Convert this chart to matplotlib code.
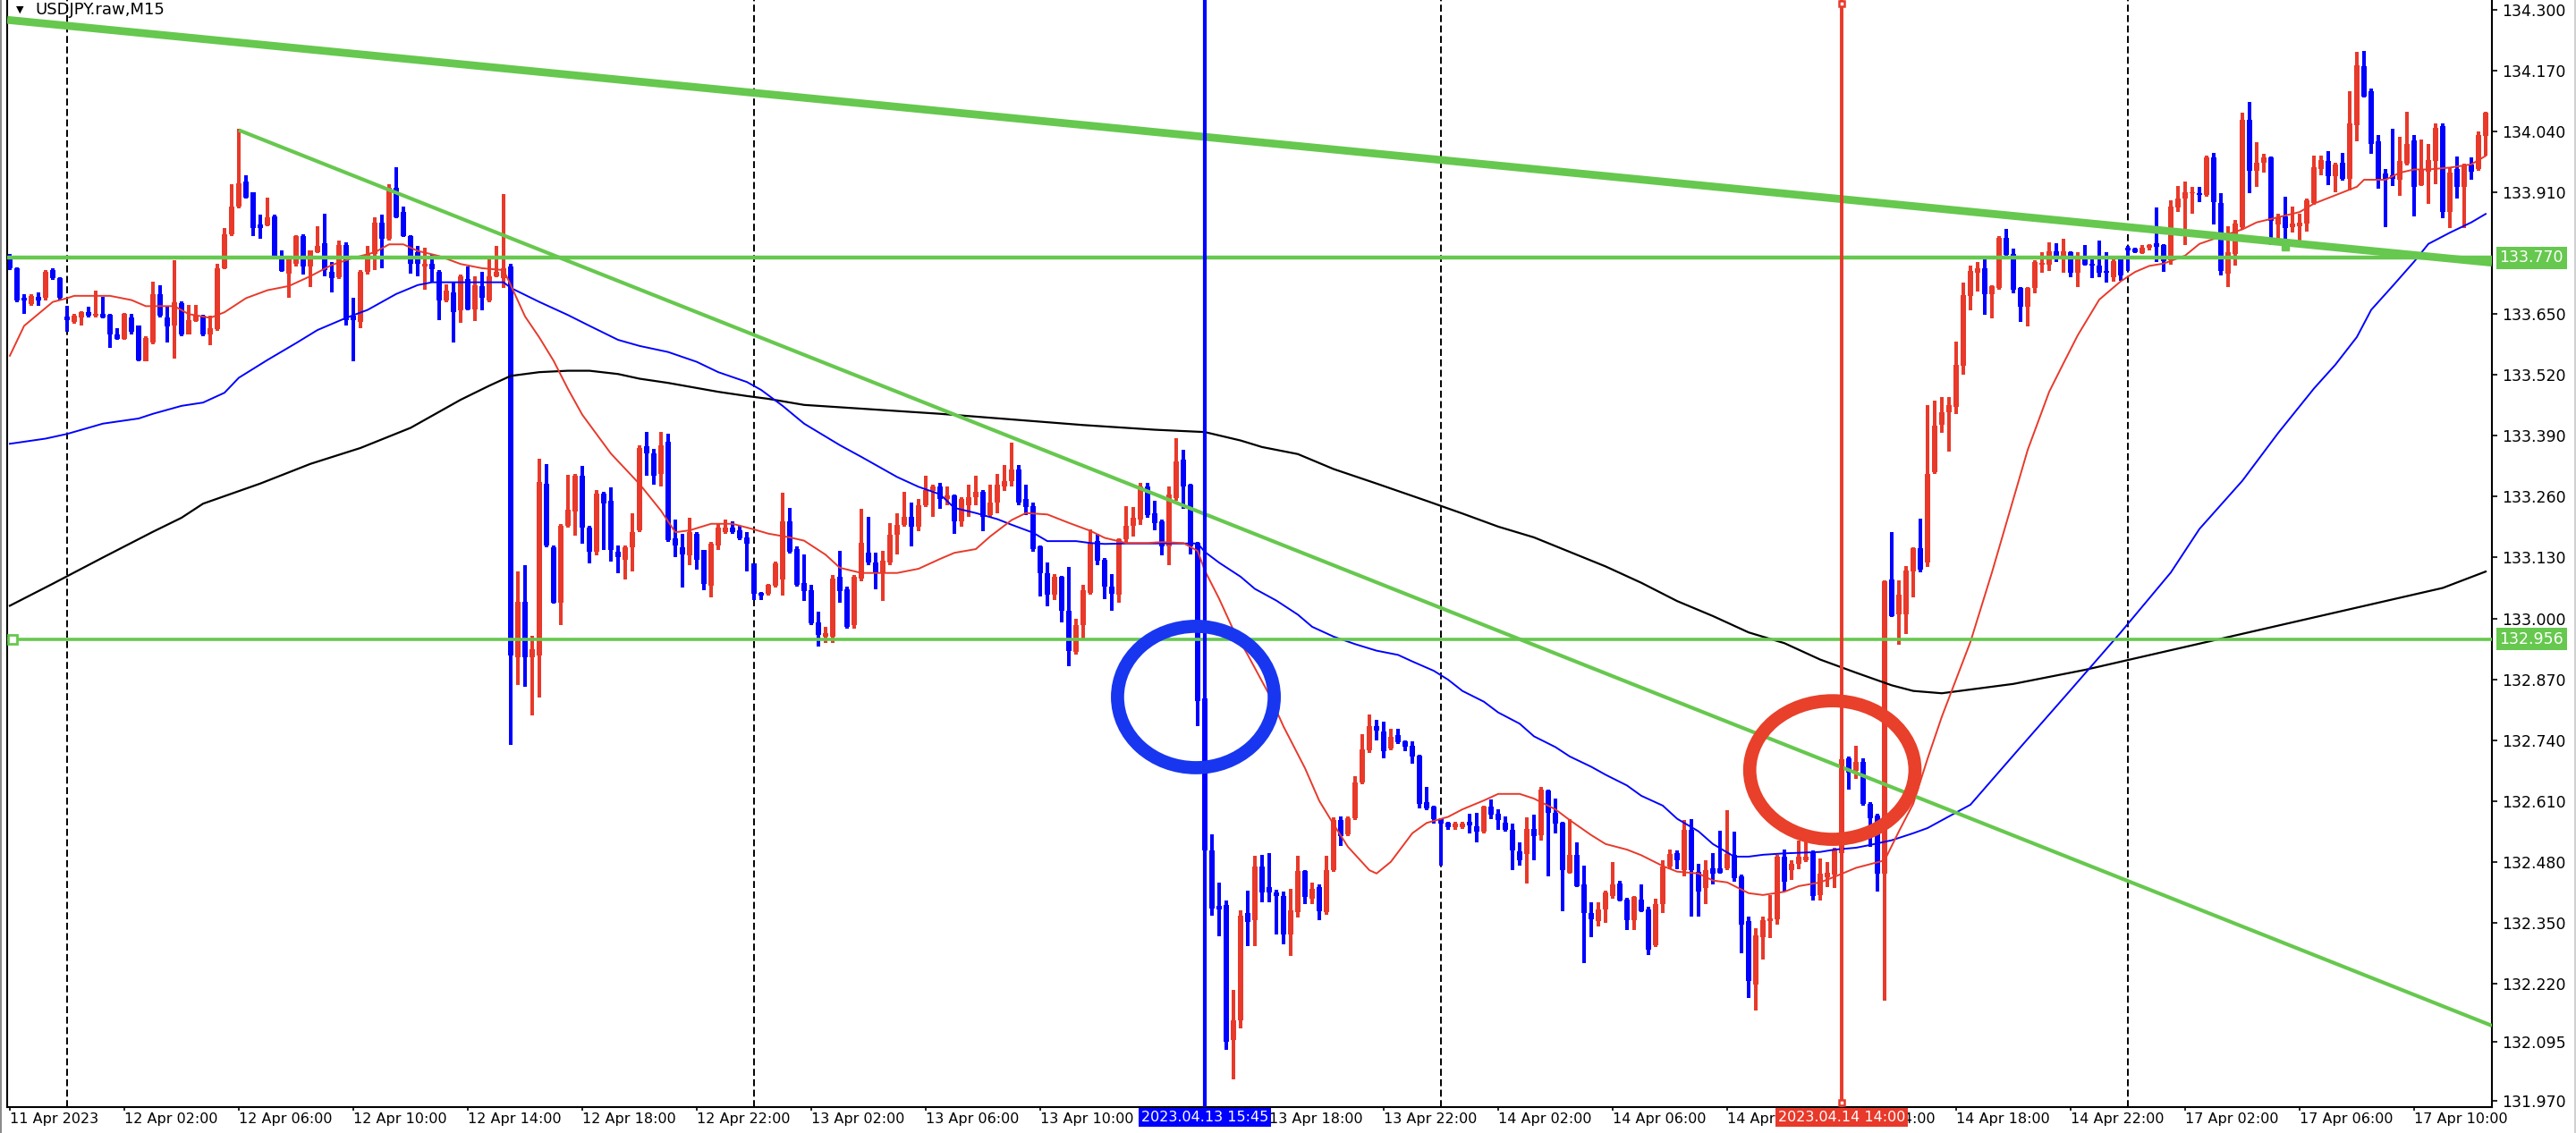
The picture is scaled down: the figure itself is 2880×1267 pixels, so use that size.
import numpy as np
import matplotlib
matplotlib.use("Agg")
import matplotlib.pyplot as plt
from matplotlib.patches import Ellipse
from matplotlib.lines import Line2D
from matplotlib.transforms import blended_transform_factory

RED = "#e8392a"
BLUE = "#0000ff"
GREEN = "#66c84e"

# USDJPY M15 bars, bar 0 = 11 Apr 22:00 ... bar 346 = 17 Apr 12:30
opens = [
    133.774, 133.748, 133.684, 133.671, 133.686, 133.684, 133.744, 133.727, 133.644, 133.633,
    133.642, 133.654, 133.646, 133.650, 133.648, 133.607, 133.597, 133.642, 133.625, 133.549,
    133.590, 133.693, 133.643, 133.625, 133.674, 133.607, 133.635, 133.646, 133.607, 133.618,
    133.748, 133.821, 133.880, 133.933, 133.910, 133.842, 133.839, 133.859, 133.774, 133.737,
    133.757, 133.816, 133.752, 133.782, 133.802, 133.740, 133.729, 133.797, 133.646, 133.633,
    133.740, 133.778, 133.845, 133.811, 133.919, 133.868, 133.816, 133.782, 133.751, 133.757,
    133.740, 133.680, 133.697, 133.659, 133.725, 133.660, 133.710, 133.680, 133.731, 133.727,
    133.752, 132.917, 133.036, 132.917, 132.921, 133.288, 133.151, 133.034, 133.198, 133.228,
    133.305, 133.194, 133.143, 133.266, 133.251, 133.143, 133.126, 133.151, 133.189, 133.367,
    133.352, 133.309, 133.377, 133.171, 133.151, 133.134, 133.181, 133.147, 133.070, 133.155,
    133.185, 133.194, 133.189, 133.173, 133.117, 133.055, 133.053, 133.070, 133.083, 133.207,
    133.148, 133.076, 133.061, 132.991, 132.961, 132.961, 133.089, 133.063, 132.986, 133.085,
    133.140, 133.119, 133.097, 133.119, 133.178, 133.200, 133.217, 133.195, 133.242, 133.272,
    133.281, 133.255, 133.262, 133.208, 133.242, 133.259, 133.270, 133.221, 133.247, 133.281,
    133.294, 133.319, 133.255, 133.240, 133.153, 133.097, 133.050, 133.089, 133.016, 132.929,
    132.986, 133.055, 133.165, 133.125, 133.068, 133.050, 133.170, 133.197, 133.212, 133.281,
    133.225, 133.208, 133.153, 133.257, 133.340, 133.285, 133.161, 132.829, 132.504, 132.385,
    132.387, 132.099, 132.142, 132.370, 132.355, 132.470, 132.426, 132.415, 132.406, 132.325,
    132.372, 132.460, 132.402, 132.426, 132.372, 132.462, 132.569, 132.539, 132.573, 132.650,
    132.718, 132.769, 132.758, 132.722, 132.750, 132.738, 132.727, 132.707, 132.608, 132.597,
    132.571, 132.563, 132.553, 132.553, 132.566, 132.555, 132.545, 132.597, 132.582, 132.563,
    132.548, 132.502, 132.496, 132.551, 132.537, 132.633, 132.584, 132.563, 132.457, 132.495,
    132.432, 132.371, 132.354, 132.378, 132.407, 132.434, 132.400, 132.356, 132.400, 132.378,
    132.301, 132.389, 132.469, 132.498, 132.462, 132.548, 132.459, 132.424, 132.467, 132.467,
    132.467, 132.495, 132.448, 132.354, 132.218, 132.319, 132.353, 132.358, 132.491, 132.463,
    132.475, 132.483, 132.501, 132.409, 132.447, 132.452, 132.498, 132.701, 132.674, 132.693,
    132.604, 132.579, 132.454, 133.083, 133.008, 133.009, 133.100, 133.150, 133.120, 133.312,
    133.414, 133.441, 133.451, 133.539, 133.688, 133.738, 133.747, 133.692, 133.705, 133.813,
    133.778, 133.705, 133.665, 133.705, 133.756, 133.756, 133.785, 133.767, 133.783, 133.738,
    133.769, 133.758, 133.754, 133.743, 133.729, 133.770, 133.792, 133.789, 133.780, 133.791,
    133.801, 133.797, 133.765, 133.877, 133.897, 133.908, 133.908, 133.904, 133.985, 133.887,
    133.736, 133.778, 133.835, 134.065, 133.957, 133.973, 133.984, 133.841, 133.858, 133.836,
    133.838, 133.843, 133.887, 133.959, 133.977, 133.944, 133.974, 133.938, 134.054, 134.180,
    134.127, 134.019, 133.950, 133.946, 133.937, 133.972, 134.021, 133.926, 133.955, 133.977,
    134.052, 133.868, 133.960, 133.921, 133.970, 133.959, 134.030,
]
highs = [
    133.778, 133.750, 133.693, 133.693, 133.697, 133.744, 133.748, 133.729, 133.667, 133.650,
    133.657, 133.665, 133.701, 133.686, 133.650, 133.620, 133.653, 133.650, 133.626, 133.603,
    133.720, 133.712, 133.667, 133.765, 133.677, 133.669, 133.669, 133.648, 133.646, 133.757,
    133.834, 133.927, 134.045, 133.946, 133.910, 133.863, 133.898, 133.863, 133.787, 133.770,
    133.818, 133.821, 133.787, 133.838, 133.865, 133.761, 133.808, 133.804, 133.684, 133.744,
    133.795, 133.857, 133.863, 133.927, 133.964, 133.880, 133.818, 133.795, 133.791, 133.778,
    133.744, 133.714, 133.718, 133.735, 133.751, 133.731, 133.740, 133.774, 133.795, 133.906,
    133.757, 133.100, 133.113, 132.963, 133.341, 133.330, 133.155, 133.202, 133.307, 133.309,
    133.326, 133.198, 133.275, 133.271, 133.279, 133.155, 133.155, 133.224, 133.369, 133.398,
    133.362, 133.398, 133.394, 133.211, 133.181, 133.215, 133.185, 133.147, 133.164, 133.202,
    133.211, 133.207, 133.198, 133.185, 133.117, 133.057, 133.074, 133.121, 133.268, 133.236,
    133.153, 133.136, 133.072, 133.015, 132.982, 133.093, 133.144, 133.068, 133.093, 133.234,
    133.217, 133.140, 133.144, 133.204, 133.225, 133.270, 133.247, 133.255, 133.305, 133.285,
    133.289, 133.281, 133.264, 133.259, 133.285, 133.305, 133.274, 133.285, 133.308, 133.328,
    133.375, 133.328, 133.285, 133.247, 133.155, 133.120, 133.095, 133.091, 133.110, 132.999,
    133.072, 133.191, 133.180, 133.129, 133.095, 133.171, 133.240, 133.238, 133.289, 133.289,
    133.251, 133.211, 133.281, 133.385, 133.360, 133.288, 133.163, 132.835, 132.538, 132.436,
    132.398, 132.206, 132.377, 132.419, 132.492, 132.494, 132.498, 132.421, 132.417, 132.423,
    132.492, 132.462, 132.436, 132.432, 132.492, 132.575, 132.577, 132.577, 132.662, 132.752,
    132.795, 132.783, 132.779, 132.764, 132.764, 132.740, 132.738, 132.709, 132.639, 132.600,
    132.573, 132.565, 132.566, 132.565, 132.582, 132.584, 132.600, 132.613, 132.592, 132.576,
    132.561, 132.522, 132.574, 132.580, 132.639, 132.635, 132.615, 132.565, 132.571, 132.522,
    132.471, 132.393, 132.393, 132.418, 132.479, 132.440, 132.403, 132.407, 132.432, 132.384,
    132.401, 132.483, 132.506, 132.504, 132.569, 132.571, 132.475, 132.483, 132.498, 132.547,
    132.590, 132.545, 132.452, 132.362, 132.339, 132.362, 132.409, 132.495, 132.506, 132.483,
    132.526, 132.549, 132.504, 132.487, 132.479, 132.510, 132.705, 132.705, 132.727, 132.701,
    132.608, 132.582, 133.081, 133.185, 133.081, 133.111, 133.152, 133.213, 133.455, 133.466,
    133.473, 133.473, 133.591, 133.718, 133.753, 133.762, 133.770, 133.712, 133.816, 133.831,
    133.789, 133.707, 133.707, 133.765, 133.782, 133.804, 133.802, 133.811, 133.785, 133.782,
    133.797, 133.770, 133.807, 133.782, 133.767, 133.772, 133.795, 133.792, 133.797, 133.799,
    133.877, 133.799, 133.893, 133.924, 133.933, 133.922, 133.922, 133.988, 133.995, 133.908,
    133.838, 133.851, 134.080, 134.104, 134.017, 133.992, 133.986, 133.865, 133.900, 133.880,
    133.865, 133.897, 133.988, 133.988, 133.999, 133.974, 133.995, 134.127, 134.211, 134.213,
    134.131, 134.033, 133.960, 134.045, 134.028, 134.083, 134.033, 134.023, 134.014, 134.058,
    134.058, 133.963, 133.987, 133.972, 133.984, 134.041, 134.083,
]
lows = [
    133.744, 133.676, 133.650, 133.667, 133.667, 133.680, 133.723, 133.680, 133.612, 133.629,
    133.626, 133.643, 133.642, 133.640, 133.578, 133.595, 133.595, 133.607, 133.549, 133.549,
    133.586, 133.642, 133.590, 133.554, 133.603, 133.606, 133.633, 133.603, 133.584, 133.614,
    133.746, 133.816, 133.876, 133.897, 133.816, 133.811, 133.838, 133.770, 133.740, 133.684,
    133.752, 133.735, 133.707, 133.781, 133.731, 133.697, 133.725, 133.625, 133.549, 133.619,
    133.735, 133.744, 133.748, 133.808, 133.855, 133.814, 133.737, 133.731, 133.703, 133.720,
    133.637, 133.676, 133.589, 133.631, 133.658, 133.635, 133.659, 133.676, 133.729, 133.706,
    132.729, 132.857, 132.853, 132.793, 132.831, 133.151, 133.032, 132.985, 133.194, 133.177,
    133.160, 133.117, 133.134, 133.147, 133.121, 133.096, 133.083, 133.100, 133.185, 133.305,
    133.285, 133.282, 133.164, 133.130, 133.066, 133.113, 133.104, 133.061, 133.044, 133.147,
    133.181, 133.181, 133.168, 133.100, 133.040, 133.040, 133.049, 133.066, 133.049, 133.138,
    133.068, 133.038, 132.986, 132.940, 132.948, 132.948, 133.033, 132.978, 132.978, 133.080,
    133.114, 133.063, 133.038, 133.114, 133.137, 133.195, 133.153, 133.187, 133.238, 133.217,
    133.234, 133.242, 133.180, 133.195, 133.217, 133.242, 133.187, 133.217, 133.225, 133.272,
    133.281, 133.242, 133.221, 133.142, 133.046, 133.026, 133.040, 132.991, 132.897, 132.922,
    132.955, 133.050, 133.114, 133.042, 133.016, 133.033, 133.161, 133.174, 133.200, 133.214,
    133.189, 133.134, 133.114, 133.251, 133.234, 133.136, 132.769, 132.480, 132.364, 132.321,
    132.078, 132.016, 132.125, 132.300, 132.300, 132.394, 132.394, 132.325, 132.304, 132.278,
    132.361, 132.389, 132.389, 132.355, 132.366, 132.458, 132.513, 132.534, 132.569, 132.645,
    132.713, 132.740, 132.701, 132.719, 132.732, 132.717, 132.690, 132.594, 132.590, 132.561,
    132.471, 132.549, 132.549, 132.551, 132.541, 132.522, 132.541, 132.572, 132.549, 132.545,
    132.462, 132.471, 132.434, 132.483, 132.526, 132.448, 132.541, 132.374, 132.455, 132.426,
    132.264, 132.319, 132.342, 132.350, 132.401, 132.395, 132.335, 132.335, 132.372, 132.280,
    132.298, 132.370, 132.465, 132.465, 132.448, 132.362, 132.362, 132.389, 132.432, 132.454,
    132.463, 132.438, 132.284, 132.190, 132.163, 132.272, 132.317, 132.346, 132.417, 132.441,
    132.465, 132.479, 132.397, 132.397, 132.426, 132.424, 132.455, 132.635, 132.658, 132.600,
    132.512, 132.417, 132.183, 133.003, 132.943, 132.966, 133.044, 133.098, 133.110, 133.308,
    133.396, 133.356, 133.436, 133.520, 133.659, 133.699, 133.648, 133.641, 133.703, 133.769,
    133.694, 133.634, 133.623, 133.694, 133.738, 133.743, 133.762, 133.738, 133.729, 133.707,
    133.754, 133.726, 133.729, 133.718, 133.719, 133.721, 133.743, 133.781, 133.778, 133.787,
    133.762, 133.740, 133.756, 133.868, 133.798, 133.865, 133.889, 133.900, 133.841, 133.732,
    133.707, 133.754, 133.831, 133.908, 133.921, 133.952, 133.798, 133.802, 133.794, 133.824,
    133.802, 133.826, 133.884, 133.946, 133.926, 133.911, 133.936, 133.915, 134.019, 134.112,
    133.992, 133.917, 133.836, 133.924, 133.902, 133.968, 133.858, 133.924, 133.886, 133.928,
    133.855, 133.833, 133.897, 133.833, 133.937, 133.957, 133.988,
]
closes = [
    133.748, 133.680, 133.680, 133.688, 133.680, 133.740, 133.727, 133.684, 133.637, 133.646,
    133.654, 133.646, 133.650, 133.642, 133.607, 133.597, 133.650, 133.612, 133.552, 133.599,
    133.693, 133.646, 133.623, 133.676, 133.607, 133.637, 133.646, 133.607, 133.619, 133.748,
    133.821, 133.880, 133.930, 133.899, 133.834, 133.834, 133.857, 133.774, 133.742, 133.770,
    133.816, 133.752, 133.787, 133.795, 133.744, 133.727, 133.797, 133.637, 133.637, 133.740,
    133.778, 133.845, 133.811, 133.919, 133.857, 133.816, 133.757, 133.757, 133.757, 133.746,
    133.680, 133.701, 133.654, 133.731, 133.660, 133.712, 133.684, 133.731, 133.740, 133.748,
    132.921, 133.036, 132.917, 132.934, 133.292, 133.155, 133.034, 133.198, 133.232, 133.305,
    133.194, 133.143, 133.266, 133.245, 133.147, 133.130, 133.151, 133.185, 133.364, 133.352,
    133.305, 133.369, 133.168, 133.155, 133.137, 133.185, 133.126, 133.074, 133.160, 133.194,
    133.194, 133.185, 133.171, 133.160, 133.053, 133.049, 133.072, 133.117, 133.208, 133.143,
    133.072, 133.059, 132.989, 132.965, 132.969, 133.085, 133.059, 132.982, 133.089, 133.161,
    133.119, 133.097, 133.123, 133.178, 133.200, 133.217, 133.195, 133.242, 133.274, 133.281,
    133.255, 133.262, 133.208, 133.255, 133.259, 133.270, 133.217, 133.247, 133.285, 133.294,
    133.319, 133.248, 133.238, 133.149, 133.097, 133.050, 133.089, 133.016, 132.931, 132.986,
    133.061, 133.161, 133.123, 133.068, 133.052, 133.170, 133.197, 133.214, 133.281, 133.221,
    133.204, 133.153, 133.264, 133.336, 133.282, 133.154, 132.824, 132.504, 132.381, 132.378,
    132.095, 132.142, 132.364, 132.351, 132.470, 132.415, 132.415, 132.406, 132.325, 132.377,
    132.460, 132.404, 132.423, 132.375, 132.463, 132.569, 132.534, 132.573, 132.650, 132.720,
    132.769, 132.760, 132.717, 132.746, 132.736, 132.725, 132.705, 132.604, 132.594, 132.571,
    132.561, 132.553, 132.561, 132.561, 132.557, 132.545, 132.597, 132.580, 132.569, 132.549,
    132.504, 132.483, 132.551, 132.534, 132.635, 132.584, 132.561, 132.462, 132.495, 132.428,
    132.370, 132.358, 132.379, 132.415, 132.431, 132.397, 132.356, 132.405, 132.374, 132.293,
    132.389, 132.470, 132.496, 132.483, 132.548, 132.462, 132.417, 132.462, 132.454, 132.457,
    132.496, 132.446, 132.346, 132.225, 132.323, 132.355, 132.360, 132.491, 132.438, 132.475,
    132.491, 132.491, 132.407, 132.455, 132.457, 132.504, 132.699, 132.670, 132.693, 132.604,
    132.573, 132.454, 133.079, 133.005, 133.050, 133.103, 133.150, 133.104, 133.308, 133.411,
    133.440, 133.456, 133.541, 133.690, 133.743, 133.747, 133.692, 133.709, 133.813, 133.776,
    133.703, 133.665, 133.705, 133.762, 133.760, 133.785, 133.767, 133.785, 133.738, 133.767,
    133.756, 133.753, 133.738, 133.738, 133.763, 133.732, 133.787, 133.783, 133.792, 133.797,
    133.794, 133.763, 133.880, 133.897, 133.911, 133.911, 133.905, 133.985, 133.889, 133.743,
    133.782, 133.843, 134.065, 133.957, 133.974, 133.984, 133.849, 133.857, 133.833, 133.843,
    133.846, 133.893, 133.963, 133.979, 133.944, 133.970, 133.938, 134.058, 134.182, 134.114,
    134.014, 133.937, 133.938, 133.938, 133.977, 134.014, 133.921, 133.960, 133.979, 134.048,
    133.868, 133.953, 133.921, 133.968, 133.955, 134.033, 134.080,
]

# moving averages (bar index, price)
fast_ma_bar = [0, 2, 6, 8, 9, 14, 17, 19, 23, 25, 28, 30, 33, 36, 39, 42, 45, 48, 51, 53,
               55, 57, 60, 63, 66, 69, 70, 72, 74, 76, 78, 80, 84, 88, 91, 93, 95, 98, 101, 104,
               106, 109, 111, 114, 116, 119, 124, 127, 130, 132, 135, 137, 140, 142, 145, 148, 151, 153, 156, 159,
               161, 164, 166, 167, 169, 171, 173, 176, 178, 181, 183, 185, 187, 190, 191, 193, 196, 198, 201, 203,
               206, 208, 211, 213, 216, 218, 221, 223, 226, 228, 231, 233, 236, 238, 240, 243, 245, 248, 250, 253,
               255, 258, 260, 262, 264, 266, 268, 270, 272, 274, 277, 280, 282, 285, 287, 289, 292, 295, 297, 299,
               301, 304, 306, 309, 312, 314, 317, 320, 322, 325, 328, 329, 332, 334, 336, 338, 341, 344, 346]
fast_ma = [133.561, 133.625, 133.676, 133.684, 133.689, 133.689, 133.680, 133.667, 133.667, 133.650,
           133.642, 133.654, 133.684, 133.701, 133.710, 133.731, 133.755, 133.770, 133.782, 133.799,
           133.799, 133.785, 133.774, 133.757, 133.748, 133.744, 133.712, 133.645, 133.600, 133.550,
           133.490, 133.435, 133.352, 133.287, 133.230, 133.184, 133.188, 133.202, 133.202, 133.190,
           133.181, 133.173, 133.166, 133.136, 133.108, 133.097, 133.097, 133.106, 133.127, 133.140,
           133.148, 133.175, 133.210, 133.225, 133.222, 133.204, 133.187, 133.172, 133.161, 133.161,
           133.163, 133.161, 133.144, 133.102, 133.042, 132.975, 132.922, 132.837, 132.769, 132.680,
           132.610, 132.560, 132.512, 132.462, 132.455, 132.480, 132.541, 132.563, 132.576, 132.592,
           132.611, 132.625, 132.625, 132.615, 132.592, 132.569, 132.537, 132.518, 132.506, 132.494,
           132.471, 132.459, 132.455, 132.440, 132.436, 132.413, 132.409, 132.416, 132.428, 132.436,
           132.448, 132.467, 132.475, 132.483, 132.545, 132.604, 132.700, 132.790, 132.870, 132.950,
           133.098, 133.255, 133.360, 133.484, 133.545, 133.605, 133.681, 133.720, 133.740, 133.753,
           133.758, 133.775, 133.800, 133.816, 133.831, 133.846, 133.857, 133.868, 133.886, 133.904,
           133.922, 133.937, 133.937, 133.952, 133.959, 133.959, 133.963, 133.970, 133.988]

mid_ma_bar = [0, 5, 8, 13, 18, 20, 24, 27, 30, 32, 36, 40, 43, 47, 50, 54, 57, 59, 69, 70,
              74, 78, 81, 85, 88, 92, 96, 99, 103, 105, 108, 111, 116, 119, 124, 127, 130, 132, 135, 138,
              140, 143, 145, 149, 151, 153, 156, 166, 167, 169, 172, 174, 177, 180, 182, 185, 188, 191, 194, 196,
              199, 201, 203, 206, 208, 211, 213, 216, 218, 221, 223, 226, 228, 231, 233, 236, 238, 241, 243, 245,
              248, 253, 255, 258, 260, 263, 266, 268, 274, 281, 288, 295, 302, 306, 312, 317, 322, 325, 328, 330,
              333, 336, 338, 341, 344, 346]
mid_ma = [133.373, 133.384, 133.394, 133.416, 133.427, 133.437, 133.454, 133.461, 133.482, 133.514,
          133.552, 133.588, 133.616, 133.642, 133.659, 133.693, 133.712, 133.718, 133.718, 133.706,
          133.676, 133.648, 133.625, 133.595, 133.582, 133.569, 133.548, 133.526, 133.505, 133.488,
          133.454, 133.416, 133.370, 133.345, 133.302, 133.281, 133.265, 133.236, 133.225, 133.212,
          133.200, 133.183, 133.165, 133.165, 133.161, 133.159, 133.160, 133.160, 133.142, 133.119,
          133.089, 133.063, 133.038, 133.008, 132.982, 132.961, 132.945, 132.931, 132.922, 132.908,
          132.888, 132.869, 132.845, 132.822, 132.799, 132.775, 132.748, 132.725, 132.705, 132.683,
          132.666, 132.643, 132.621, 132.600, 132.572, 132.545, 132.518, 132.491, 132.491, 132.495,
          132.498, 132.501, 132.506, 132.510, 132.516, 132.526, 132.541, 132.552, 132.602, 132.725,
          132.847, 132.970, 133.098, 133.191, 133.294, 133.396, 133.491, 133.542, 133.601, 133.659,
          133.710, 133.762, 133.800, 133.824, 133.846, 133.864]

slow_ma_bar = [0, 6, 13, 20, 24, 27, 35, 42, 49, 56, 63, 67, 70, 74, 78, 81, 85, 88, 92, 99,
               103, 106, 111, 120, 130, 140, 150, 160, 167, 172, 175, 180, 185, 191, 198, 203, 208, 213, 218, 223,
               228, 233, 238, 243, 248, 253, 258, 263, 266, 270, 280, 290, 300, 310, 320, 330, 340, 346]
slow_ma = [133.027, 133.074, 133.130, 133.185, 133.215, 133.245, 133.288, 133.330, 133.364, 133.407,
           133.467, 133.497, 133.518, 133.526, 133.529, 133.529, 133.522, 133.512, 133.503, 133.484,
           133.475, 133.469, 133.456, 133.447, 133.437, 133.425, 133.413, 133.403, 133.398, 133.380,
           133.366, 133.351, 133.319, 133.288, 133.251, 133.224, 133.196, 133.173, 133.142, 133.111,
           133.076, 133.037, 133.005, 132.970, 132.947, 132.912, 132.884, 132.857, 132.845, 132.840,
           132.860, 132.890, 132.925, 132.960, 132.995, 133.030, 133.065, 133.100]

time_ticks = [0, 16, 32, 48, 64, 80, 96, 112, 128, 144, 160, 176, 192, 208, 224, 240, 256, 272, 288, 304, 320, 336]
time_labels = ["11 Apr 2023", "12 Apr 02:00", "12 Apr 06:00", "12 Apr 10:00", "12 Apr 14:00", "12 Apr 18:00",
               "12 Apr 22:00", "13 Apr 02:00", "13 Apr 06:00", "13 Apr 10:00", "13 Apr 14:00", "13 Apr 18:00",
               "13 Apr 22:00", "14 Apr 02:00", "14 Apr 06:00", "14 Apr 10:00", "14 Apr 14:00", "14 Apr 18:00",
               "14 Apr 22:00", "17 Apr 02:00", "17 Apr 06:00", "17 Apr 10:00"]
day_starts = [8, 104, 200, 296]

price_ticks = [134.300, 134.170, 134.040, 133.910, 133.650, 133.520, 133.390, 133.260, 133.130,
               133.000, 132.870, 132.740, 132.610, 132.480, 132.350, 132.220, 132.095, 131.970]

levels = [133.770, 132.956]
main_trend = ([0, 318], [134.278, 133.803])
down_trend = ([32, 256], [134.043, 132.682])
events = [(167, "2023.04.13 15:45", BLUE), (256, "2023.04.14 14:00", RED)]
# (center bar, center price, width in bars, height in price, colour)
circles = [(165.75, 132.832, 21.9, 0.302, "#1836f0"), (254.7, 132.676, 23.1, 0.296, "#e8402a")]

o = np.array(opens)
h = np.array(highs)
l = np.array(lows)
c = np.array(closes)
bars = np.arange(len(c))
cols = np.where(c >= o, RED, BLUE)

fig = plt.figure(figsize=(28.8, 12.67), dpi=100)
ax = fig.add_axes([8 / 2880, 29 / 1267, 2778 / 2880, 1238 / 1267])
xmin, xmax = -0.375, 346.875
ax.set_xlim(xmin, xmax)
ax.set_ylim(131.956, 134.321)

for d in day_starts:
    ax.axvline(d, color="black", lw=1.4, ls=(0, (4, 2)), zorder=1)

ax.vlines(bars, l, h, colors=cols, lw=1.5, zorder=2, antialiased=False)
ax.bar(bars, np.maximum(np.abs(c - o), 0.003), bottom=np.minimum(o, c), width=0.66,
       color=cols, lw=0, zorder=2.1, antialiased=False)

ax.plot(slow_ma_bar, slow_ma, color="black", lw=1.6, zorder=3)
ax.plot(mid_ma_bar, mid_ma, color=BLUE, lw=1.4, zorder=3)
ax.plot(fast_ma_bar, fast_ma, color=RED, lw=1.4, zorder=3)

ax.axhline(levels[0], color=GREEN, lw=3.2, zorder=4)
ax.axhline(levels[1], color=GREEN, lw=2.6, zorder=4)
ax.plot([0.4], [levels[1]], marker="s", ms=7, mfc="white", mec=GREEN, mew=2, zorder=6)

# trend lines extended as rays
(bx, by) = main_trend
k = (by[1] - by[0]) / (bx[1] - bx[0])
ax.plot([xmin, xmax], [by[0] + k * (xmin - bx[0]), by[0] + k * (xmax - bx[0])],
        color=GREEN, lw=6.3, solid_capstyle="butt", zorder=4)
ax.plot([bx[1]], [by[1] - 0.01], marker="s", ms=6, color=GREEN, zorder=4)
(bx, by) = down_trend
k = (by[1] - by[0]) / (bx[1] - bx[0])
ax.plot([bx[0], xmax], [by[0], by[0] + k * (xmax - bx[0])], color=GREEN, lw=3.0,
        solid_capstyle="butt", zorder=4)

tx = blended_transform_factory(ax.transData, ax.transAxes)
for x, lab, col in events:
    ax.axvline(x, color=col, lw=3.0 if col == BLUE else 2.8, zorder=5)
    ax.text(x, -0.003, lab, transform=tx, ha="center", va="top", fontsize=11.5, color="white",
            bbox=dict(boxstyle="square,pad=0.2", fc=col, ec="none"), zorder=10, clip_on=False)
ax.plot([256, 256], [0.997, 0.004], transform=tx, ls="none", marker="s", ms=5,
        mfc="white", mec=RED, mew=1.8, zorder=6, clip_on=False)

for cx, cy, w, hh, col in circles:
    ax.add_patch(Ellipse((cx, cy), w, hh, fill=False, ec=col, lw=10.6, zorder=6))

ax.set_xticks(time_ticks)
ax.set_xticklabels(time_labels, fontsize=11.5, ha="left")
ax.tick_params(axis="x", direction="out", length=3, width=1.2, pad=1.5, colors="black")
ax.yaxis.tick_right()
ax.set_yticks(price_ticks)
ax.set_yticklabels([f"{p:.3f}" for p in price_ticks])
ax.tick_params(axis="y", direction="out", length=4, width=1.2, pad=4, labelsize=12.5)

ty = blended_transform_factory(ax.transAxes, ax.transData)
for lv in levels:
    ax.text(1.0031, lv, f"{lv:.3f}", transform=ty, ha="left", va="center", fontsize=12.5,
            color="white", bbox=dict(boxstyle="square,pad=0.22", fc=GREEN, ec="none"),
            zorder=10, clip_on=False)

ax.spines["top"].set_visible(False)
for s in ["left", "right", "bottom"]:
    ax.spines[s].set_linewidth(1.5)
    ax.spines[s].set_color("black")

fig.text(18 / 2880, 1 - 11 / 1267, "\u25bc", fontsize=8, ha="left", va="center")
fig.text(39 / 2880, 1 - 11 / 1267, "USDJPY.raw,M15", fontsize=13, ha="left", va="center")
fig.add_artist(Line2D([1 / 2880, 1 / 2880], [0, 1], transform=fig.transFigure, color="#8c8c8c", lw=1.5))
fig.add_artist(Line2D([2878.5 / 2880, 2878.5 / 2880], [0, 1], transform=fig.transFigure, color="#d0d0d0", lw=1.5))

fig.savefig("out.png", dpi=100)
